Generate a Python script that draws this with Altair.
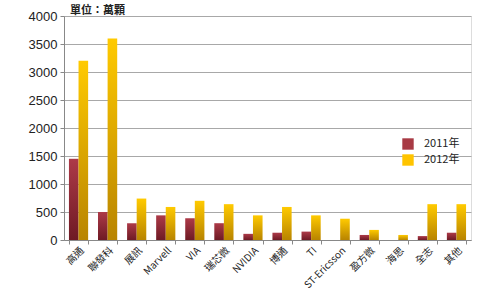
import altair as alt
import pandas as pd

companies = ["高通", "聯發科", "展訊", "Marvell", "VIA", "瑞芯微", "NVIDIA", "博通", "TI",
             "ST-Ericsson", "盈方微", "海思", "全志", "其他"]
v2011 = [1450, 500, 300, 440, 390, 300, 110, 130, 150, 0, 90, 0, 70, 130]
v2012 = [3200, 3600, 740, 590, 700, 640, 440, 590, 440, 380, 180, 90, 640, 640]
series = ["2011年", "2012年"]

rows = []
for c, a, b in zip(companies, v2011, v2012):
    rows.append({"company": c, "series": series[0], "value": a})
    rows.append({"company": c, "series": series[1], "value": b})
df = pd.DataFrame(rows)

grad2011 = alt.Gradient(gradient="linear", x1=0, y1=0, x2=0, y2=1,
                        stops=[alt.GradientStop(color="#ad3a48", offset=0),
                               alt.GradientStop(color="#6e1a24", offset=1)])
grad2012 = alt.Gradient(gradient="linear", x1=0, y1=0, x2=0, y2=1,
                        stops=[alt.GradientStop(color="#ffca00", offset=0),
                               alt.GradientStop(color="#b88400", offset=1)])

font = "Liberation Sans"
cjk = "Noto Sans CJK TC"

x_enc = alt.X("company:N", sort=companies,
              scale=alt.Scale(paddingInner=0.34, paddingOuter=0.17),
              axis=alt.Axis(title=None, labelAngle=-45, labelAlign="right", labelBaseline="top",
                            labelFont=cjk, labelFontSize=10, labelColor="#222",
                            tickBand="extent", tickColor="#888", domainColor="#888",
                            tickSize=4, labelPadding=1, grid=False))
y_enc = alt.Y("value:Q", scale=alt.Scale(domain=[0, 4000]),
              axis=alt.Axis(title=None, values=list(range(0, 4001, 500)), format="d",
                            labelFont=font, labelFontSize=13, labelColor="#222",
                            gridColor="#a8a8a8", domainColor="#888", tickColor="#888",
                            tickSize=4, labelPadding=3))

bars = alt.Chart(df).mark_bar().encode(
    x=x_enc,
    xOffset=alt.XOffset("series:N", sort=series),
    y=y_enc,
    fill=alt.condition(alt.datum.series == "2011年", alt.value(grad2011), alt.value(grad2012)),
)

legend_layer = alt.Chart(df).mark_point(shape="square", filled=True, opacity=0).encode(
    x=x_enc,
    y=y_enc,
    color=alt.Color("series:N", sort=series,
                    scale=alt.Scale(domain=series, range=["#a83a44", "#ffc400"]),
                    legend=alt.Legend(title=None, orient="none", legendX=338, legendY=122,
                                      symbolType="square", symbolSize=130, symbolStrokeWidth=0,
                                      symbolOpacity=1,
                                      labelFont=cjk, labelFontSize=11,
                                      labelColor="#222", rowPadding=4, labelOffset=10)),
)

title = alt.Chart(pd.DataFrame({"t": ["單位：萬顆"]})).mark_text(
    align="left", baseline="middle", font=cjk, fontSize=11, fontWeight="bold", color="#222"
).encode(text="t:N", x=alt.value(6), y=alt.value(-5))

chart = alt.layer(bars, legend_layer, title).properties(
    width=407, height=224,
    autosize=alt.AutoSizeParams(type="none"),
    padding={"left": 64, "top": 16, "right": 17, "bottom": 52},
).configure_view(stroke=None).configure(background="white")

chart.save("out.html", embed_options={"renderer": "svg", "actions": False})
